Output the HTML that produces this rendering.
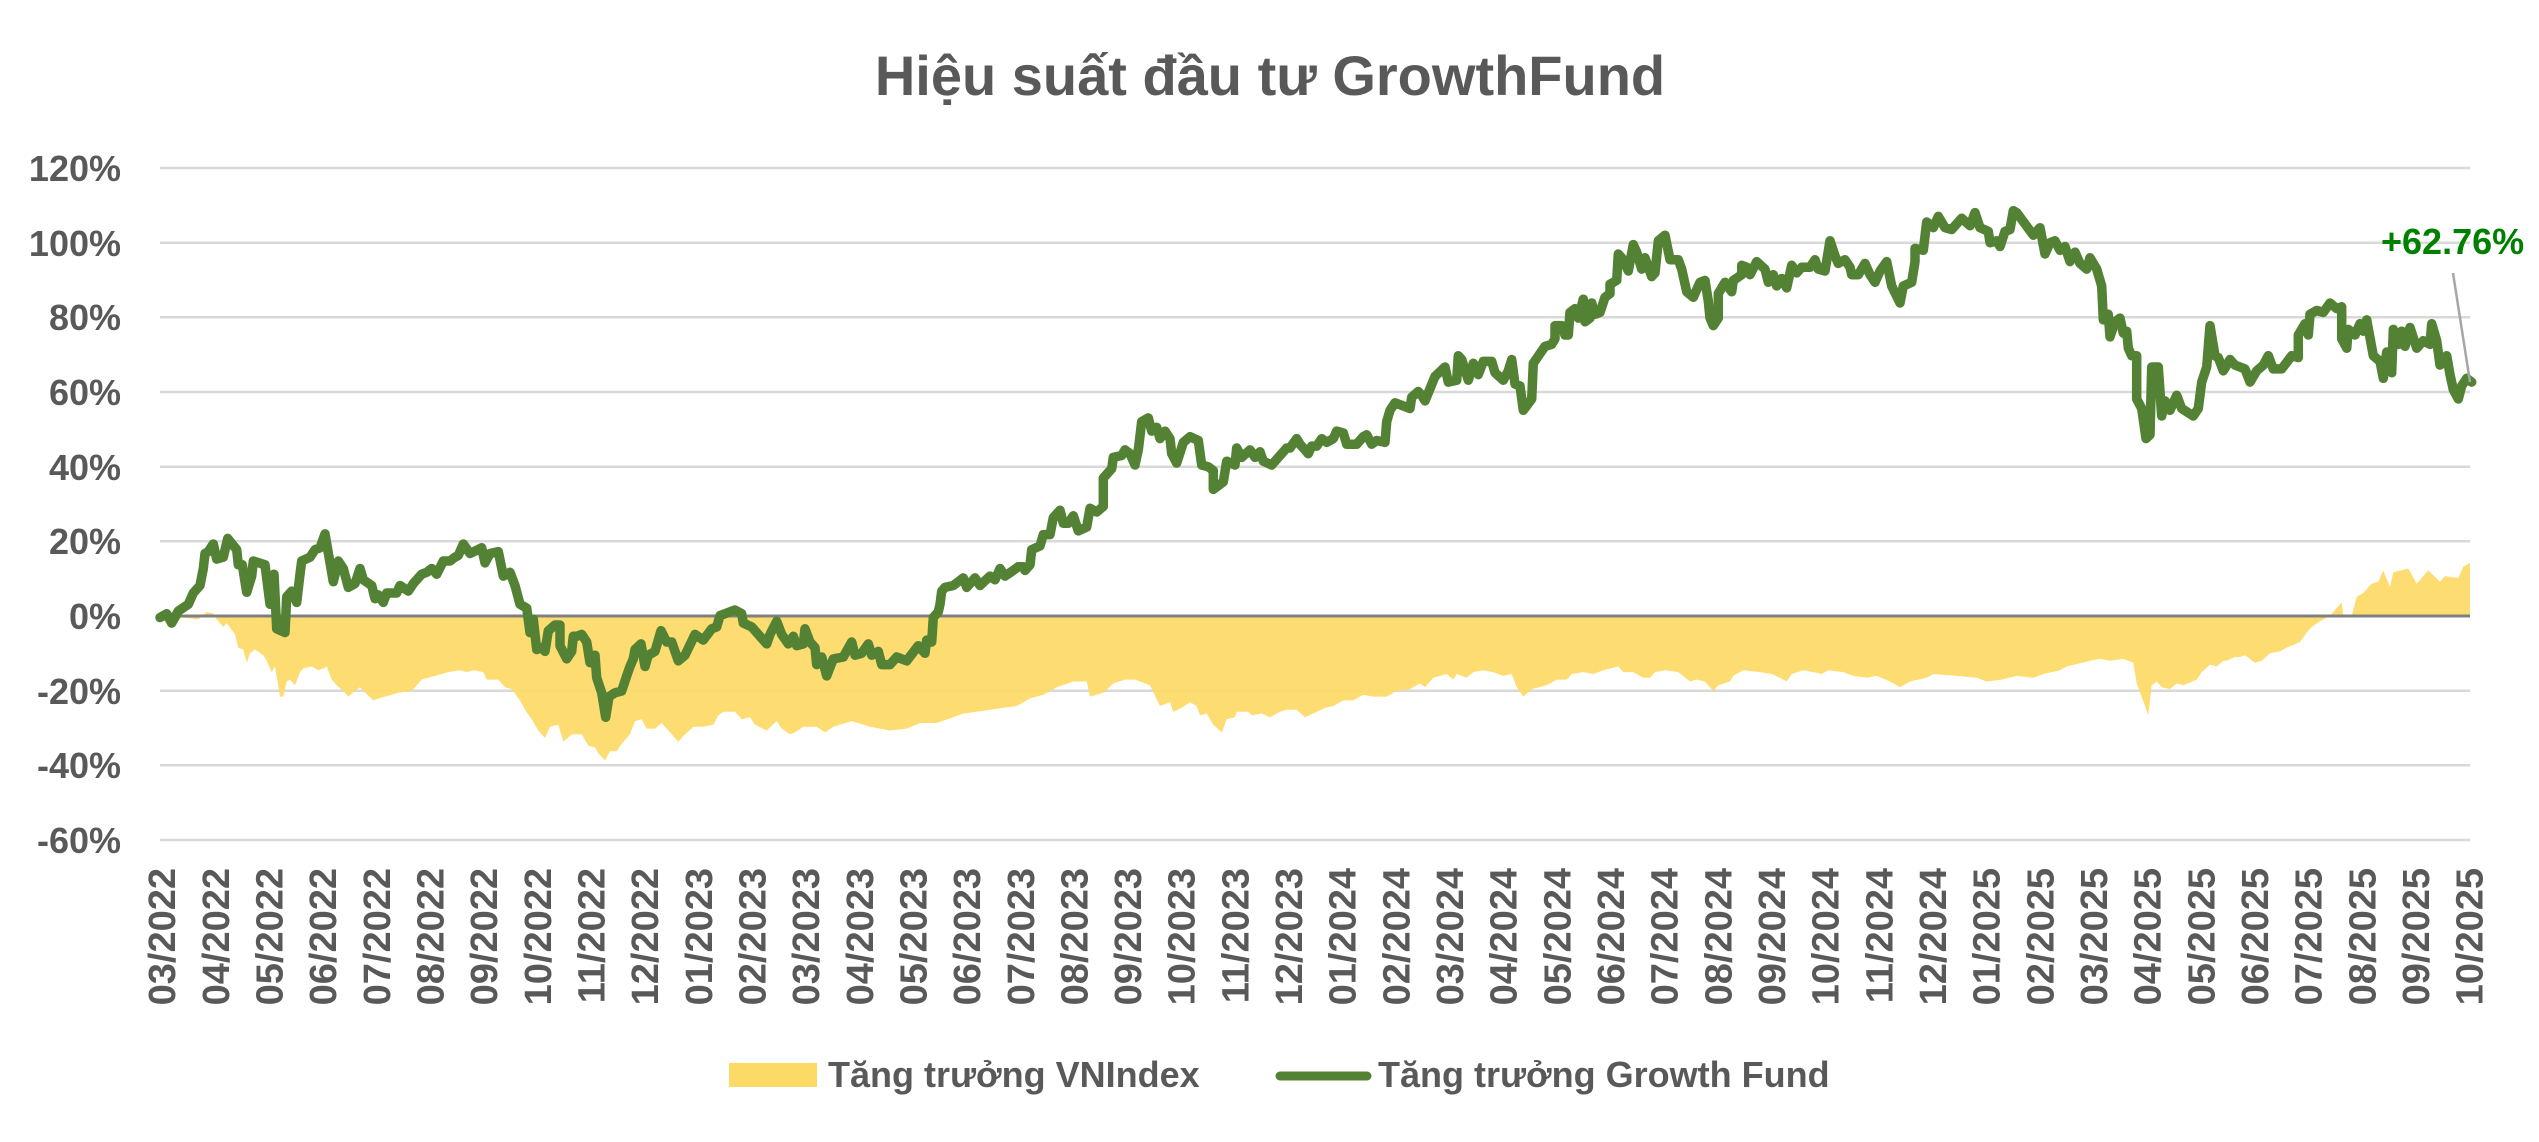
<!DOCTYPE html>
<html>
<head>
<meta charset="utf-8">
<style>
html,body{margin:0;padding:0;background:#fff;}
svg{display:block;}
text{font-family:"Liberation Sans","DejaVu Sans",sans-serif;font-weight:bold;fill:#595959;}
</style>
</head>
<body>
<svg width="2539" height="1142" viewBox="0 0 2539 1142" xmlns="http://www.w3.org/2000/svg">
<rect width="2539" height="1142" fill="#fff"/>
<text x="1270" y="95" font-size="56" text-anchor="middle">Hiệu suất đầu tư GrowthFund</text>

<g stroke="#D9D9D9" stroke-width="2.5">
<line x1="160" y1="168" x2="2470" y2="168"/>
<line x1="160" y1="242.7" x2="2470" y2="242.7"/>
<line x1="160" y1="317.3" x2="2470" y2="317.3"/>
<line x1="160" y1="392" x2="2470" y2="392"/>
<line x1="160" y1="466.7" x2="2470" y2="466.7"/>
<line x1="160" y1="541.3" x2="2470" y2="541.3"/>
<line x1="160" y1="690.7" x2="2470" y2="690.7"/>
<line x1="160" y1="765.3" x2="2470" y2="765.3"/>
<line x1="160" y1="840" x2="2470" y2="840"/>
</g>

<g font-size="36" text-anchor="end">
<text x="121" y="181">120%</text>
<text x="121" y="256">100%</text>
<text x="121" y="330">80%</text>
<text x="121" y="405">60%</text>
<text x="121" y="480">40%</text>
<text x="121" y="554">20%</text>
<text x="121" y="629">0%</text>
<text x="121" y="704">-20%</text>
<text x="121" y="778">-40%</text>
<text x="121" y="853">-60%</text>
</g>

<path fill="#FDD966" fill-opacity="0.93" d="M160,616 L160,617.5 171.7,626.9 181.7,617.5 198.3,619.4 206.7,611.8 213.3,613.7 216.7,619.4 223.3,626.9 226.7,623.1 235,634.4 238.3,647.6 243.3,649.5 246.7,662.7 250,653.3 255,649.5 263.3,655.2 266.7,660.8 271.7,672.1 275,666.5 280,696.6 283.3,696.6 286.7,681.5 290,679.6 295,685.3 300,672.1 303.3,668.4 311.7,666.5 318.3,670.2 323.3,668.4 326.7,666.5 331.7,679.6 336.7,685.3 343.3,690.9 348.3,696.6 355,690.9 360,687.2 363.3,690.9 373.3,700.4 378.3,698.5 385,696.6 398.3,692.8 411.7,690.9 421.7,679.6 435,675.9 441.7,674 448.3,672.1 460,670.2 466.7,672.1 473.3,670.2 483.3,672.1 486.7,679.6 498.3,679.6 505,687.2 511.7,689.1 520,700.4 525,709.8 531.7,719.2 538.3,730.5 545,738 550,726.7 558.3,724.8 563.3,741.8 571.7,734.3 581.7,734.3 588.3,745.6 595,747.4 598.3,753.1 605,760.6 610,751.2 616.7,751.2 621.7,743.7 630,734.3 635,721.1 641.7,719.2 646.7,728.6 655,728.6 661.7,723 670,732.4 678.3,741.8 683.3,736.1 693.3,726.7 703.3,726.7 713.3,724.8 718.3,715.4 723.3,711.7 735,711.7 741.7,719.2 750,717.3 755,724.8 766.7,730.5 776.7,721.1 781.7,728.6 790,734.3 795,732.4 803.3,726.7 816.7,726.7 825,732.4 833.3,726.7 851.7,721.1 870,726.7 890,730.5 906.7,728.6 920,723 936.7,723 953.3,717.3 963.3,713.5 976.7,711.7 990,709.8 1003.3,707.9 1016.7,706 1030,698.5 1043.3,694.7 1056.7,687.2 1073.3,681.5 1086.7,681.5 1090,696.6 1103.3,692.8 1113.3,683.4 1125,679.6 1135,679.6 1150,685.3 1160,706 1170,702.2 1173.3,711.7 1181.7,707.9 1190,702.2 1196.7,706 1200,715.4 1206.7,713.5 1213.3,724.8 1221.7,732.4 1226.7,719.2 1235,717.3 1236.7,711.7 1248.3,711.7 1251.7,715.4 1261.7,713.5 1270,717.3 1280,711.7 1286.7,709.8 1296.7,709.8 1305,717.3 1316.7,711.7 1325,707.9 1333.3,706 1343.3,700.4 1353.3,700.4 1363.3,694.7 1373.3,696.6 1386.7,696.6 1396.7,690.9 1410,689.1 1420,683.4 1425,687.2 1433.3,677.8 1446.7,674 1453.3,679.6 1456.7,674 1466.7,677.8 1473.3,672.1 1483.3,670.2 1493.3,672.1 1503.3,675.9 1511.7,674 1516.7,687.2 1523.3,696.6 1531.7,689.1 1546.7,685.3 1556.7,679.6 1566.7,679.6 1571.7,674 1583.3,672.1 1593.3,674 1603.3,670.2 1618.3,666.5 1623.3,672.1 1633.3,672.1 1643.3,677.8 1650,677.8 1655,672.1 1665,670.2 1678.3,672.1 1690,681.5 1696.7,679.6 1705,681.5 1710,687.2 1713.3,690.9 1718.3,685.3 1730,681.5 1733.3,675.9 1743.3,670.2 1760,672.1 1771.7,674 1780,677.8 1786.7,681.5 1791.7,674 1803.3,670.2 1813.3,672.1 1821.7,674 1828.3,670.2 1843.3,672.1 1853.3,675.9 1866.7,677.8 1876.7,675.9 1890,681.5 1900,687.2 1910,681.5 1926.7,677.8 1933.3,674 1956.7,675.9 1976.7,677.8 1986.7,681.5 2001.7,679.6 2016.7,675.9 2033.3,677.8 2043.3,674 2060,670.2 2066.7,666.5 2090,660.8 2100,658.9 2110,660.8 2123.3,658.9 2133.3,662.7 2136.7,683.4 2145,706 2148.3,715.4 2151.7,685.3 2156.7,681.5 2161.7,687.2 2170,689.1 2176.7,683.4 2183.3,685.3 2196.7,679.6 2201.7,672.1 2210,664.6 2216.7,666.5 2223.3,660.8 2226.7,660.8 2235,657 2240,657 2245,655.2 2255,662.7 2261.7,660.8 2270,653.3 2280,651.4 2286.7,647.6 2300,642 2306.7,632.6 2311.7,626.9 2320,621.3 2330,615.6 2336.7,608.1 2341.7,602.4 2343.3,616 2351.7,616 2356.7,596.8 2363.3,593 2371.7,583.6 2378.3,581.7 2383.3,570.4 2390,587.4 2393.3,572.3 2408.3,568.5 2416.7,583.6 2428.3,570.4 2440,581.7 2445,576.1 2458.3,578 2463.3,566.7 2470,562.9 L2470,616 Z"/>

<line x1="160" y1="616" x2="2470" y2="616" stroke="#808080" stroke-width="3"/>

<polyline fill="none" stroke="#548235" stroke-width="9.5" stroke-linejoin="round" stroke-linecap="round" points="160,617.5 166.7,613.7 171.7,623.1 178.3,611.1 188.3,604.3 193.3,593 200,585.5 203.3,568.5 205,553.5 208.3,551.6 213.3,544 216.7,559.1 223.3,557.2 227.7,538.4 236.7,549.7 238.3,564.8 242.3,564.8 246.7,592.3 251.7,576.1 253.3,561 265,564.8 270,604.3 274,574.2 276.7,628.8 285,632.6 286.7,596.8 291.7,591.1 296.7,602.4 300,574.2 301.7,561 310,557.2 315,549.7 320,547.8 325,533.9 333.3,581.7 338.3,561 343.3,568.5 348.3,587.4 355,583.6 360,568.5 363.3,579.8 371.7,585.5 375,598.7 378.3,594.9 383.3,602.4 386.7,593 396.7,593 400,585.5 408.3,591.1 413.3,583.6 421.7,574.2 426.7,572.3 431.7,568.5 436.7,574.2 443.3,561 450,561 455,557.2 458.3,555.4 463.3,544 470,553.5 481.7,547.8 485,562.9 490,553.5 498.3,551.6 503.3,576.1 510,572.3 515,585.5 520,604.3 526.7,608.1 530,632.6 533.3,619.4 536.7,649.5 541.7,647.6 545,651.4 548.3,630.7 555,625 560,625 560,645.7 566.7,658.9 571.7,651.4 573.3,636.3 576.7,636.3 581.7,634.4 586.7,642 590,662.7 595,655.2 596.7,677.8 601.7,692.8 605.7,717.3 609,696.6 615,692.8 621.7,691 626.7,675.9 630,666.5 633.3,658.9 635,649.5 641,643.9 645,666.5 648.3,655.2 655,651.4 661,630.7 666.7,642 671.7,642 678.3,660.8 685,655.2 695,634.4 703.3,640.1 711.7,628.8 716.7,626.9 720,615.6 735,610 741.7,613.7 743.3,623.1 751.7,626.9 758.3,634.4 766.7,643.9 770,634.4 776.7,621.3 781.7,634.4 788.3,643.9 793.3,636.3 796.7,645.7 803.3,643.9 805,628.8 810,642 815,647.6 816.7,664.6 821.7,657 826.7,675.9 833.3,658.9 843.3,657 851.7,642 855,655.2 861.7,653.3 868.3,643.9 871.7,655.2 878.3,651.4 881.7,664.6 890,664.6 896.7,657 906.7,660.8 918.3,645.7 925,653.3 926.7,640.1 931.7,642 933.3,617.5 938.3,611.8 940,604.3 941.7,591.1 945,587.4 953.3,585.5 963.3,577.9 966.7,587.4 975,577.9 980,585.5 990,576.1 995,579.8 1000,568.5 1005,576.1 1013.3,570.4 1018.3,566.7 1023.3,566.7 1025,570.4 1030,564.8 1031.7,549.7 1040,545.9 1043.3,534.6 1050,534.6 1053.3,517.7 1060,510.2 1063.3,523.3 1068.3,523.3 1073.3,515.8 1078.3,530.9 1086.7,527.1 1090,508.3 1096.7,512 1103.3,506.4 1103.3,478.1 1111.7,468.7 1113.3,457.4 1121.7,455.5 1125,449.9 1130,453.7 1135,465 1138.3,449.9 1141.7,421.6 1148.3,417.9 1151.7,431.1 1156.7,427.3 1160,438.6 1165,431.1 1170,438.6 1171.7,453.7 1176.7,463.1 1183.3,442.4 1190,436.7 1198.3,440.5 1201.7,465 1208.3,466.8 1213.3,470.6 1213.3,489.4 1218.3,485.7 1223.3,481.9 1226.7,461.2 1235,465 1236.7,448 1241.7,457.4 1250,449.9 1255,457.4 1260,451.8 1263.3,461.2 1271.7,465 1276.7,459.3 1286.7,448 1290,448 1296.7,438.6 1300,444.2 1305,449.9 1308.3,453.7 1311.7,446.1 1316.7,446.1 1321.7,438.6 1326.7,442.4 1333.3,438.6 1336.7,431.1 1343.3,432.9 1346.7,444.2 1356.7,444.2 1363.3,436.7 1366.7,434.8 1371.7,444.2 1376.7,440.5 1385,442.4 1386.7,421.6 1390,410.3 1395,402.8 1410,408.5 1411.7,397.2 1418.3,391.5 1421.7,395.3 1425,400.9 1435,376.4 1445,367 1448.3,382.1 1456.7,380.2 1458.3,355.7 1461.7,359.5 1468.3,380.2 1473.3,363.3 1478.3,374.6 1483.3,361.4 1491.7,361.4 1495,372.7 1503.3,380.2 1508.3,370.8 1511.7,359.5 1515,384 1520,385.9 1523.3,410.3 1531.7,399 1533.3,363.3 1545,346.3 1551.7,344.4 1555,338.8 1555,325.6 1561.7,325.6 1565,335 1568.3,335 1570,312.4 1575,308.6 1578.3,318.1 1583.3,299.2 1585,321.8 1590,318.1 1591.7,303 1595,314.3 1600,312.4 1605,297.3 1610,293.6 1610,284.2 1616.7,280.4 1618.3,254 1623.3,259.7 1628.3,271 1633.3,244.6 1636.7,252.1 1641.7,269.1 1645,257.8 1651.7,276.6 1655,272.9 1658.3,240.8 1665,235.2 1670,259.7 1678.3,259.7 1681.7,269.1 1686.7,291.7 1693.3,297.3 1700,282.3 1705,280.4 1708.3,301.1 1710,318 1713.3,325.6 1718.3,318.1 1718.3,293.6 1725,282.3 1731.7,291.7 1733.3,280.4 1741.7,274.7 1741.7,265.3 1746.7,267.2 1750,274.7 1756.7,261.6 1765,269.1 1768.3,282.3 1773.3,274.7 1776.7,286 1781.7,278.5 1786.7,287.9 1791.7,265.3 1796.7,272.9 1801.7,267.2 1810,267.2 1815,259.7 1818.3,269.1 1825,271 1830,240.8 1835,255.9 1838.3,263.4 1845,259.7 1850,267.2 1851.7,274.7 1858.3,274.7 1865,263.4 1870,274.7 1875,282.3 1880,271 1886.7,261.6 1891.7,286 1900,303 1903.3,286 1911.7,282.3 1915,261.6 1915,248.4 1923.3,250.3 1926.7,222 1933.3,227.7 1938.3,216.4 1945,227.7 1951.7,229.5 1961.7,218.2 1970,225.8 1975,212.6 1980,227.7 1988.3,231.4 1990,242.7 1996.7,240.8 2000,246.5 2005,231.4 2010,229.5 2013.3,210.7 2016.7,212.6 2033.3,235.2 2040,227.7 2045,254 2050,242.7 2055,240.8 2060,250.3 2065,246.5 2070,261.6 2075,252.1 2080,263.4 2086.7,269.1 2090,257.8 2096.7,269.1 2101.7,286 2103.3,319.9 2108.3,314.3 2110,336.9 2115,321.8 2120,318.1 2123.3,333.1 2126.7,331.2 2128.3,348.2 2131.7,355.7 2136.7,355.7 2136.7,399 2141.7,408.5 2146,438.6 2150,434.8 2151.7,367 2158.3,367 2161.7,416 2165,400.9 2170,410.3 2176.7,395.3 2181.7,408.5 2193.3,416 2198.3,408.5 2201.7,382.1 2206.7,367 2210,325.6 2215,355.7 2218.3,357.6 2223.3,370.8 2230,359.5 2235,365.1 2245,368.9 2250,382.1 2256.7,370.8 2263.3,365.1 2268.3,355.7 2273.3,368.9 2281.7,368.9 2291.7,355.7 2298.3,357.6 2298.3,335 2305,323.7 2308.3,335 2310,314.3 2316.7,310.5 2323.3,312.4 2330,303 2336.7,308.6 2341.7,306.8 2341.7,338.8 2346.7,348.2 2348.3,329.4 2355,335 2360,323.7 2363.3,331.2 2366.7,319.9 2373.3,355.7 2380,361.4 2383.3,378.3 2386.7,352 2391.7,372.7 2393.3,329.4 2398.3,344.4 2401.7,331.2 2405,346.3 2410,327.5 2416.7,348.2 2423.3,340.7 2430,344.4 2431.7,323.7 2436.7,340.7 2440,365.1 2446.7,355.7 2450,374.6 2453.3,389.6 2458.3,399 2461.7,385.9 2466.7,378.3 2471.7,382.1"/>

<line x1="2453" y1="273" x2="2470" y2="382" stroke="#A6A6A6" stroke-width="2.5"/>
<text x="2381" y="254" font-size="36" style="fill:#008000">+62.76%</text>

<g font-size="38" text-anchor="end">
<text transform="translate(175.2,868) rotate(-90)">03/2022</text>
<text transform="translate(228.9,868) rotate(-90)">04/2022</text>
<text transform="translate(282.5,868) rotate(-90)">05/2022</text>
<text transform="translate(336.2,868) rotate(-90)">06/2022</text>
<text transform="translate(389.8,868) rotate(-90)">07/2022</text>
<text transform="translate(443.5,868) rotate(-90)">08/2022</text>
<text transform="translate(497.2,868) rotate(-90)">09/2022</text>
<text transform="translate(550.8,868) rotate(-90)">10/2022</text>
<text transform="translate(604.5,868) rotate(-90)">11/2022</text>
<text transform="translate(658.1,868) rotate(-90)">12/2022</text>
<text transform="translate(711.8,868) rotate(-90)">01/2023</text>
<text transform="translate(765.5,868) rotate(-90)">02/2023</text>
<text transform="translate(819.1,868) rotate(-90)">03/2023</text>
<text transform="translate(872.8,868) rotate(-90)">04/2023</text>
<text transform="translate(926.4,868) rotate(-90)">05/2023</text>
<text transform="translate(980.1,868) rotate(-90)">06/2023</text>
<text transform="translate(1033.8,868) rotate(-90)">07/2023</text>
<text transform="translate(1087.4,868) rotate(-90)">08/2023</text>
<text transform="translate(1141.1,868) rotate(-90)">09/2023</text>
<text transform="translate(1194.7,868) rotate(-90)">10/2023</text>
<text transform="translate(1248.4,868) rotate(-90)">11/2023</text>
<text transform="translate(1302.1,868) rotate(-90)">12/2023</text>
<text transform="translate(1355.7,868) rotate(-90)">01/2024</text>
<text transform="translate(1409.4,868) rotate(-90)">02/2024</text>
<text transform="translate(1463.0,868) rotate(-90)">03/2024</text>
<text transform="translate(1516.7,868) rotate(-90)">04/2024</text>
<text transform="translate(1570.4,868) rotate(-90)">05/2024</text>
<text transform="translate(1624.0,868) rotate(-90)">06/2024</text>
<text transform="translate(1677.7,868) rotate(-90)">07/2024</text>
<text transform="translate(1731.3,868) rotate(-90)">08/2024</text>
<text transform="translate(1785.0,868) rotate(-90)">09/2024</text>
<text transform="translate(1838.7,868) rotate(-90)">10/2024</text>
<text transform="translate(1892.3,868) rotate(-90)">11/2024</text>
<text transform="translate(1946.0,868) rotate(-90)">12/2024</text>
<text transform="translate(1999.6,868) rotate(-90)">01/2025</text>
<text transform="translate(2053.3,868) rotate(-90)">02/2025</text>
<text transform="translate(2107.0,868) rotate(-90)">03/2025</text>
<text transform="translate(2160.6,868) rotate(-90)">04/2025</text>
<text transform="translate(2214.3,868) rotate(-90)">05/2025</text>
<text transform="translate(2267.9,868) rotate(-90)">06/2025</text>
<text transform="translate(2321.6,868) rotate(-90)">07/2025</text>
<text transform="translate(2375.3,868) rotate(-90)">08/2025</text>
<text transform="translate(2428.9,868) rotate(-90)">09/2025</text>
<text transform="translate(2482.6,868) rotate(-90)">10/2025</text>
</g>

<rect x="729" y="1063" width="88" height="24" fill="#FDD966"/>
<text x="828" y="1087" font-size="36">Tăng trưởng VNIndex</text>
<line x1="1280" y1="1076" x2="1367" y2="1076" stroke="#548235" stroke-width="9" stroke-linecap="round"/>
<text x="1378" y="1087" font-size="36">Tăng trưởng Growth Fund</text>
</svg>
</body>
</html>
